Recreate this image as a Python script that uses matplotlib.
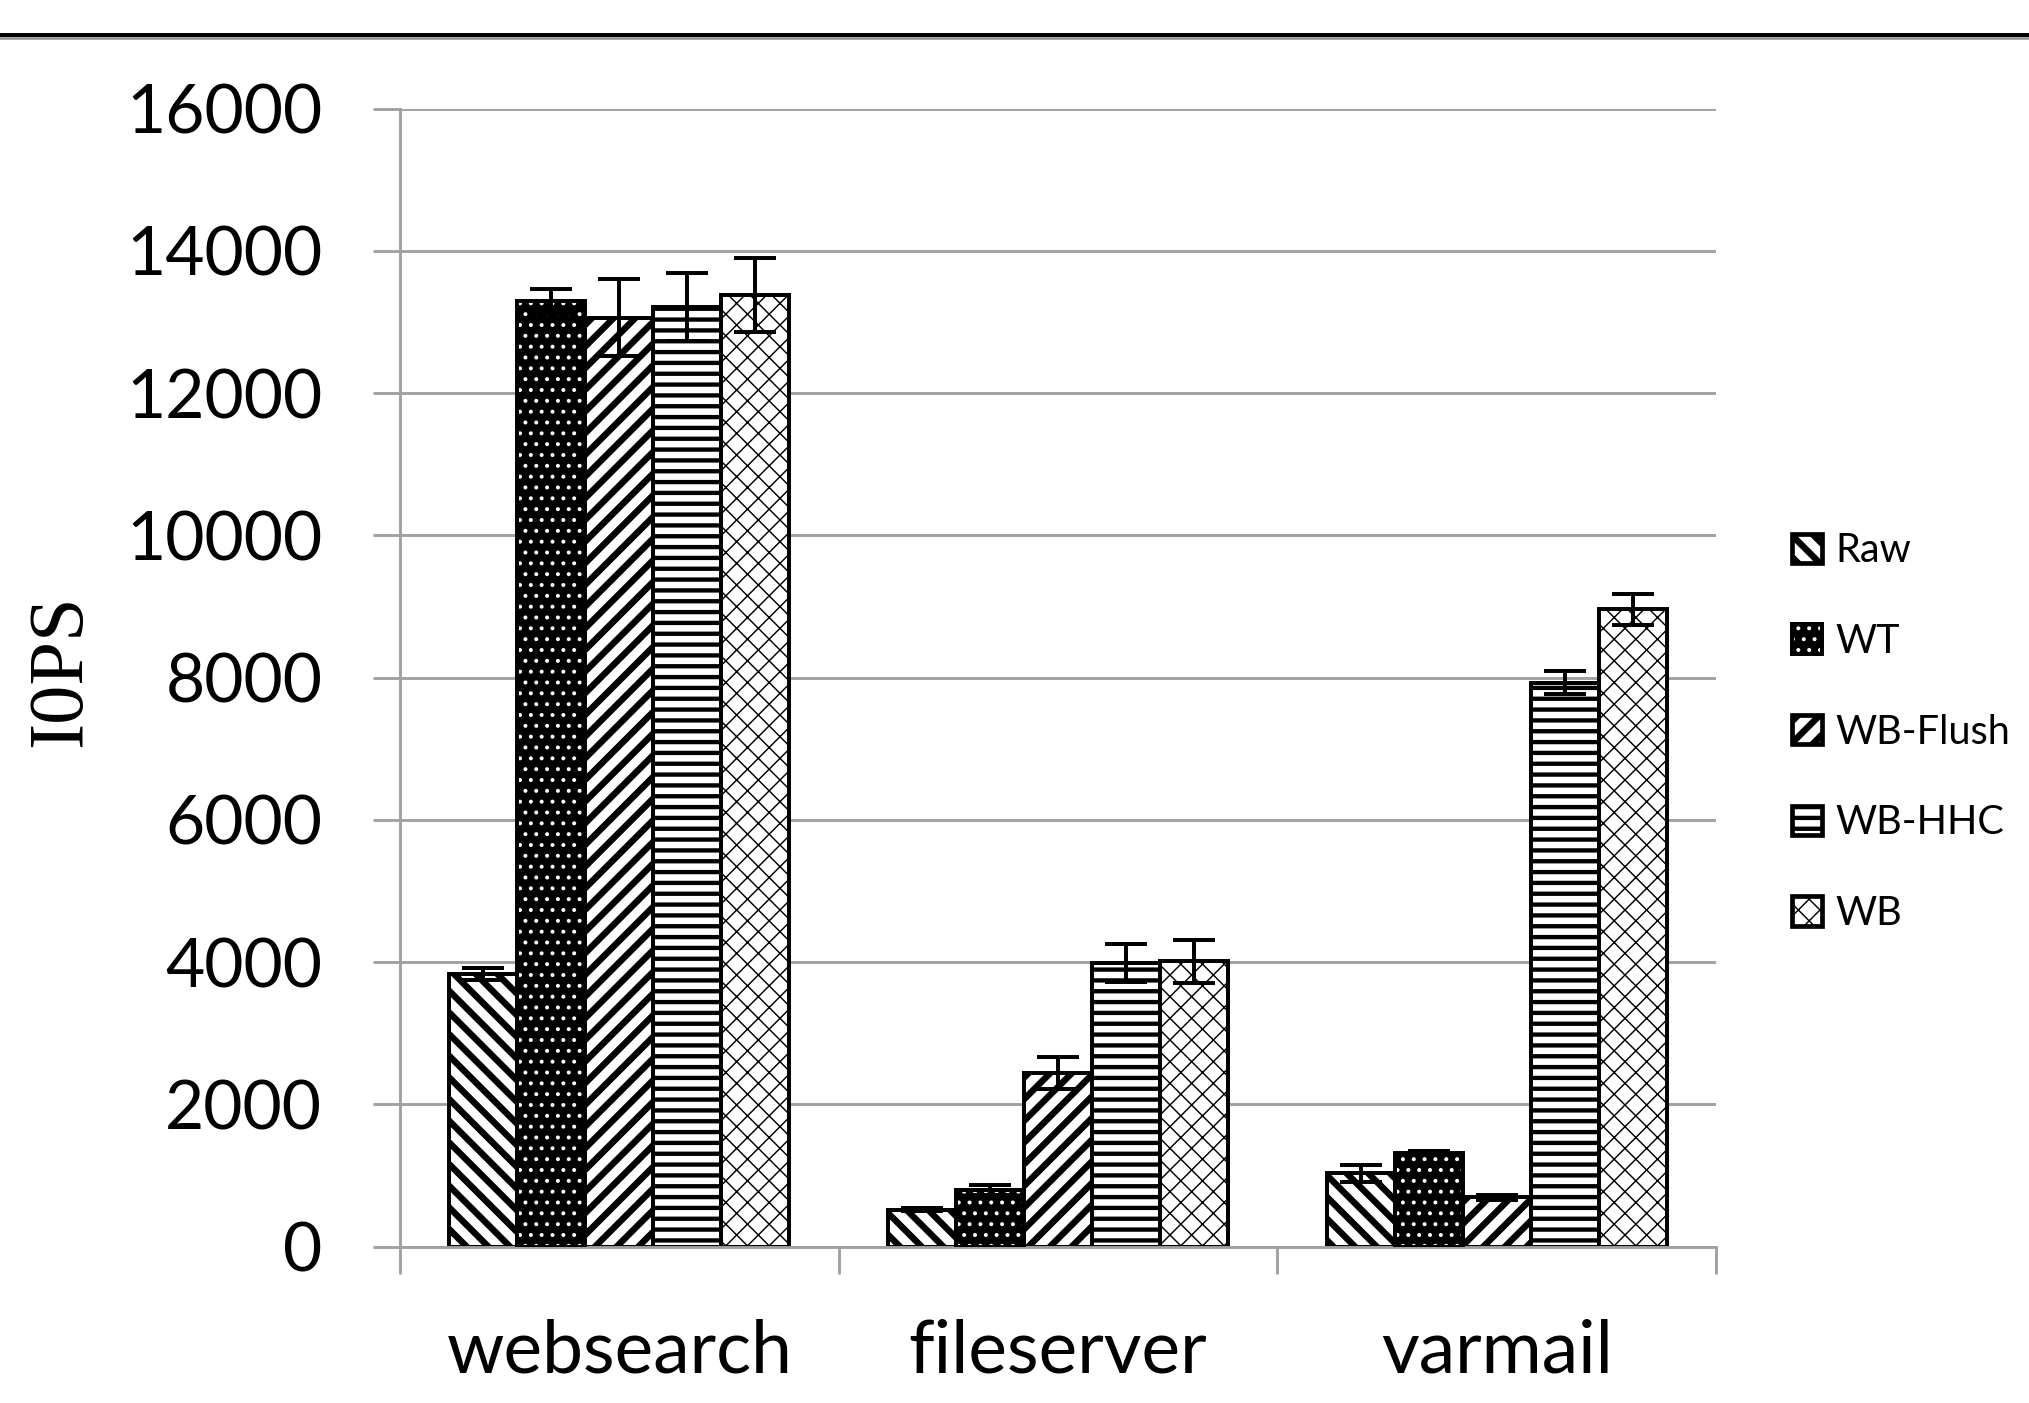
import numpy as np
import matplotlib.pyplot as plt
from matplotlib.lines import Line2D
from matplotlib.legend_handler import HandlerTuple

workloads = ["websearch", "fileserver", "varmail"]
modes = ["Raw", "WT", "WB-Flush", "WB-HHC", "WB"]

# mean IOPS per caching mode (websearch, fileserver, varmail)
iops_raw = [3830, 520, 1030]
iops_wt = [13290, 800, 1310]
iops_wb_flush = [13060, 2440, 690]
iops_wb_hhc = [13210, 3990, 7930]
iops_wb = [13380, 4010, 8960]

# error bar half-lengths
err_raw = [80, 15, 120]
err_wt = [180, 70, 30]
err_wb_flush = [540, 230, 30]
err_wb_hhc = [480, 265, 160]
err_wb = [520, 300, 215]

y_ticks = [0, 2000, 4000, 6000, 8000, 10000, 12000, 14000, 16000]

DPI = 130
W, H = 2029, 1403
GRID = "#a0a0a0"

plt.rcParams["font.family"] = ["Lato", "DejaVu Sans"]


def set_hatch_width(patch, lw):
    if hasattr(patch, "set_hatch_linewidth"):
        patch.set_hatch_linewidth(lw)


def draw_chart(out_file):
    fig = plt.figure(figsize=(W / DPI, H / DPI), dpi=DPI)
    ax = fig.add_axes([400 / W, 1 - 1246.5 / H, 1316 / W, 1137.8 / H])

    series = [iops_raw, iops_wt, iops_wb_flush, iops_wb_hhc, iops_wb]
    errors = [err_raw, err_wt, err_wb_flush, err_wb_hhc, err_wb]
    # hatch pattern and hatch line width for each mode
    hatches = ["\\\\", "..", "//", "--", "xx"]
    hatch_lw = [3.6, 1.0, 3.6, 2.4, 0.8]

    x = np.arange(len(workloads))
    width = 0.155
    handles = []
    for i, (vals, errs) in enumerate(zip(series, errors)):
        pos = x + (i - 2) * width
        if modes[i] == "WT":
            # black bar with white dots, outlined separately
            fill = ax.bar(pos, vals, width, color="black", edgecolor="white",
                          hatch=hatches[i], linewidth=0, zorder=2)
            edge = ax.bar(pos, vals, width, fill=False, edgecolor="black",
                          linewidth=2.2, zorder=3)
            bars = fill
            handles.append((fill[0], edge[0]))
        else:
            bars = ax.bar(pos, vals, width, facecolor="white", edgecolor="black",
                          hatch=hatches[i], linewidth=2.2, zorder=2)
            handles.append(bars[0])
        for p in bars:
            set_hatch_width(p, hatch_lw[i])
        ax.errorbar(pos, vals, yerr=errs, fmt="none", ecolor="black",
                    elinewidth=2.2, capsize=11.5, capthick=2.2, zorder=4)

    ax.set_xlim(-0.5, 2.5)
    ax.set_ylim(0, 16000)
    ax.set_yticks(y_ticks)
    ax.set_xticks(x, workloads)
    ax.set_xticks([-0.5, 0.5, 1.5, 2.5], minor=True)

    ax.yaxis.grid(True, color=GRID, linewidth=1.6)
    ax.set_axisbelow(True)
    for side in ["top", "right"]:
        ax.spines[side].set_visible(False)
    for side in ["left", "bottom"]:
        ax.spines[side].set_color(GRID)
        ax.spines[side].set_linewidth(1.6)

    ax.tick_params(axis="y", length=15, width=1.6, color=GRID, pad=28,
                   labelsize=37.5)
    ax.tick_params(axis="x", which="major", length=0, pad=40, labelsize=40.5)
    ax.tick_params(axis="x", which="minor", length=15, width=1.6, color=GRID)

    fig.text(61 / W, 1 - 671 / H, "I0PS", rotation=90, ha="center",
             va="center", fontsize=43.5, family="Liberation Serif")

    leg = ax.legend(handles, modes,
                    handler_map={tuple: HandlerTuple(ndivide=1, pad=0)},
                    loc="center left", bbox_to_anchor=(1792 / W, 1 - 732 / H),
                    bbox_transform=fig.transFigure, frameon=False, fontsize=22,
                    handlelength=0.76, handleheight=0.76, handletextpad=0.33,
                    labelspacing=1.35, borderpad=0, borderaxespad=0)
    # legend swatches keep the heavy outline and hatch strokes of the bars
    for h, lw in zip(leg.legend_handles, hatch_lw):
        if modes[leg.legend_handles.index(h)] != "WT":
            h.set_linewidth(2.6)
            set_hatch_width(h, lw)

    # heavy rule across the top of the page
    fig.add_artist(Line2D([0, 1], [1 - 35 / H] * 2, transform=fig.transFigure,
                          color="black", linewidth=2.2))
    fig.add_artist(Line2D([0, 1], [1 - 38.3 / H] * 2, transform=fig.transFigure,
                          color="#909090", linewidth=1.4))

    fig.savefig(out_file, dpi=DPI)


if __name__ == "__main__":
    draw_chart("out.png")
